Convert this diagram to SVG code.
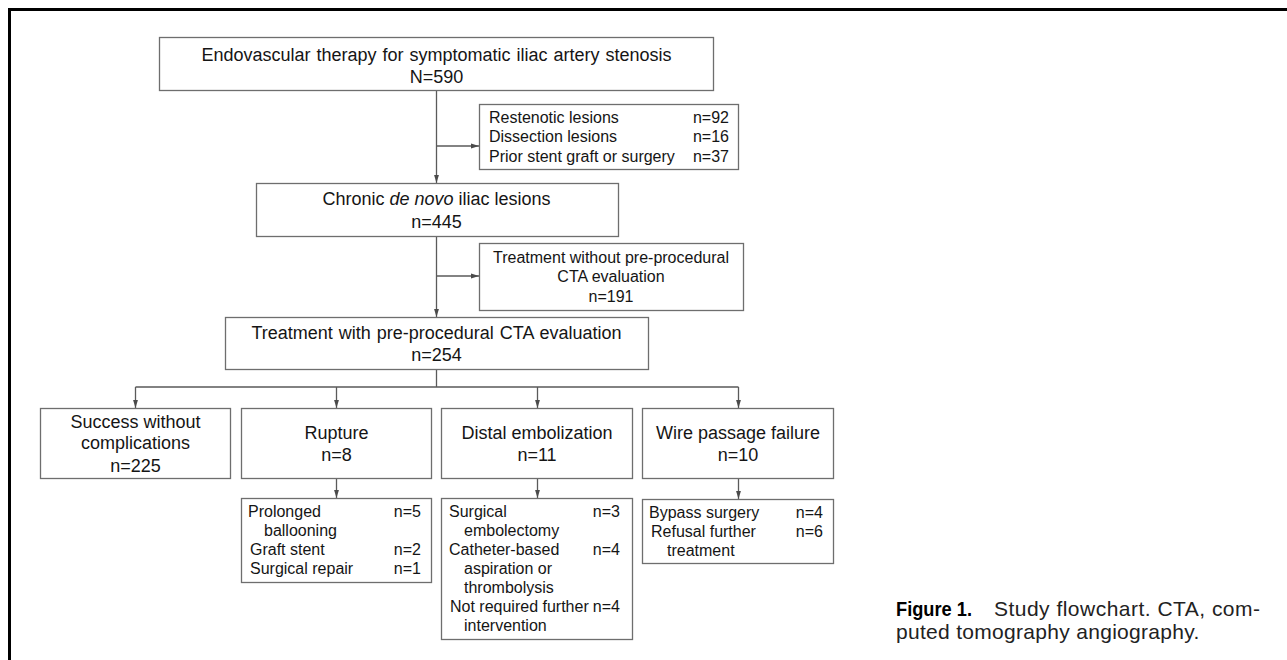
<svg xmlns="http://www.w3.org/2000/svg" width="1287" height="660" viewBox="0 0 1287 660">
<style>
.box{fill:#fff;stroke:#6e6e6e;stroke-width:1.3}
.t{font-family:"Liberation Sans",Arial,sans-serif;fill:#151515}
.big{font-size:18px}
.mid{font-size:16px}
.c{text-anchor:middle}
.r{text-anchor:end}
.ln{fill:none;stroke:#5a5a5a;stroke-width:1.3}
.cap{font-family:"Liberation Sans",Arial,sans-serif;font-size:21px;fill:#222}
</style>
<defs>
<marker id="ah" viewBox="0 0 10 10" refX="10" refY="5" markerWidth="8" markerHeight="8" markerUnits="userSpaceOnUse" orient="auto">
<path d="M0,2 L10,5 L0,8 z" fill="#4a4a4a"/>
</marker>
</defs>
<rect width="1287" height="660" fill="#fff"/>
<path d="M9.5,660 V9.5 H1287" fill="none" stroke="#000" stroke-width="3"/>

<g id="connectors">
<path class="ln" d="M436.5,90 V183" marker-end="url(#ah)"/>
<path class="ln" d="M436.5,146 H479" marker-end="url(#ah)"/>
<path class="ln" d="M436.5,236 V317" marker-end="url(#ah)"/>
<path class="ln" d="M436.5,276 H479" marker-end="url(#ah)"/>
<path class="ln" d="M436.5,369 V387 M135.5,387 H738.5"/>
<path class="ln" d="M135.5,387 V408" marker-end="url(#ah)"/>
<path class="ln" d="M336.5,387 V408" marker-end="url(#ah)"/>
<path class="ln" d="M537.5,387 V408" marker-end="url(#ah)"/>
<path class="ln" d="M738.5,387 V408" marker-end="url(#ah)"/>
<path class="ln" d="M336.5,478 V498" marker-end="url(#ah)"/>
<path class="ln" d="M537.5,478 V498" marker-end="url(#ah)"/>
<path class="ln" d="M738.5,478 V499" marker-end="url(#ah)"/>
</g>

<g id="n_top">
<rect class="box" x="159.5" y="37.5" width="554" height="53"/>
<text class="t big c" x="436.5" y="61" word-spacing="1">Endovascular therapy for symptomatic iliac artery stenosis</text>
<text class="t big c" x="436.5" y="83">N=590</text>
</g>

<g id="n_excl">
<rect class="box" x="479.5" y="104.5" width="259" height="65"/>
<text class="t mid" x="489" y="123">Restenotic lesions</text>
<text class="t mid" x="489" y="142">Dissection lesions</text>
<text class="t mid" x="489" y="162">Prior stent graft or surgery</text>
<text class="t mid r" x="729" y="123">n=92</text>
<text class="t mid r" x="729" y="142">n=16</text>
<text class="t mid r" x="729" y="162">n=37</text>
</g>

<g id="n_chronic">
<rect class="box" x="256.5" y="183.5" width="362" height="53"/>
<text class="t big c" x="436.5" y="205">Chronic <tspan font-style="italic">de novo</tspan> iliac lesions</text>
<text class="t big c" x="436.5" y="228">n=445</text>
</g>

<g id="n_nocta">
<rect class="box" x="479.5" y="243.5" width="264" height="67"/>
<text class="t mid c" x="611" y="263">Treatment without pre-procedural</text>
<text class="t mid c" x="611" y="282">CTA evaluation</text>
<text class="t mid c" x="611" y="302">n=191</text>
</g>

<g id="n_cta">
<rect class="box" x="225.5" y="317.5" width="423" height="52"/>
<text class="t big c" x="436.5" y="339" word-spacing="1">Treatment with pre-procedural  CTA evaluation</text>
<text class="t big c" x="436.5" y="361">n=254</text>
</g>

<g id="n_success">
<rect class="box" x="40.5" y="408.5" width="190" height="70"/>
<text class="t big c" x="135.5" y="428">Success without</text>
<text class="t big c" x="135.5" y="449">complications</text>
<text class="t big c" x="135.5" y="472">n=225</text>
</g>

<g id="n_rupture">
<rect class="box" x="241.5" y="408.5" width="190" height="70"/>
<text class="t big c" x="336.5" y="439">Rupture</text>
<text class="t big c" x="336.5" y="461">n=8</text>
</g>

<g id="n_distal">
<rect class="box" x="441.5" y="408.5" width="191" height="70"/>
<text class="t big c" x="537" y="439">Distal embolization</text>
<text class="t big c" x="537" y="461">n=11</text>
</g>

<g id="n_wire">
<rect class="box" x="642.5" y="408.5" width="191" height="70"/>
<text class="t big c" x="738" y="439">Wire passage failure</text>
<text class="t big c" x="738" y="461">n=10</text>
</g>

<g id="n_rupture_sub">
<rect class="box" x="241.5" y="498.5" width="190" height="84"/>
<text class="t mid" x="248" y="517">Prolonged</text>
<text class="t mid" x="264" y="536">ballooning</text>
<text class="t mid" x="250" y="555">Graft stent</text>
<text class="t mid" x="250" y="574">Surgical repair</text>
<text class="t mid r" x="421" y="517">n=5</text>
<text class="t mid r" x="421" y="555">n=2</text>
<text class="t mid r" x="421" y="574">n=1</text>
</g>

<g id="n_distal_sub">
<rect class="box" x="441.5" y="498.5" width="191" height="141"/>
<text class="t mid" x="449" y="517">Surgical</text>
<text class="t mid" x="464" y="536">embolectomy</text>
<text class="t mid" x="449" y="555">Catheter-based</text>
<text class="t mid" x="464" y="574">aspiration or</text>
<text class="t mid" x="464" y="593">thrombolysis</text>
<text class="t mid" x="450" y="612">Not required further</text>
<text class="t mid" x="464" y="631">intervention</text>
<text class="t mid r" x="620" y="517">n=3</text>
<text class="t mid r" x="620" y="555">n=4</text>
<text class="t mid r" x="620" y="612">n=4</text>
</g>

<g id="n_wire_sub">
<rect class="box" x="642.5" y="499.5" width="191" height="64"/>
<text class="t mid" x="649" y="518">Bypass surgery</text>
<text class="t mid" x="651" y="537">Refusal further</text>
<text class="t mid" x="667" y="556">treatment</text>
<text class="t mid r" x="823" y="518">n=4</text>
<text class="t mid r" x="823" y="537">n=6</text>
</g>

<g id="caption">
<text x="896" y="616" font-family="'Liberation Sans Narrow','Liberation Sans',sans-serif" font-weight="bold" font-size="21" fill="#000" textLength="76" lengthAdjust="spacingAndGlyphs">Figure 1.</text>
<text class="cap" x="994" y="616" textLength="266" lengthAdjust="spacing">Study flowchart. CTA, com-</text>
<text class="cap" x="896" y="639" letter-spacing="0.3">puted tomography angiography.</text>
</g>
</svg>
